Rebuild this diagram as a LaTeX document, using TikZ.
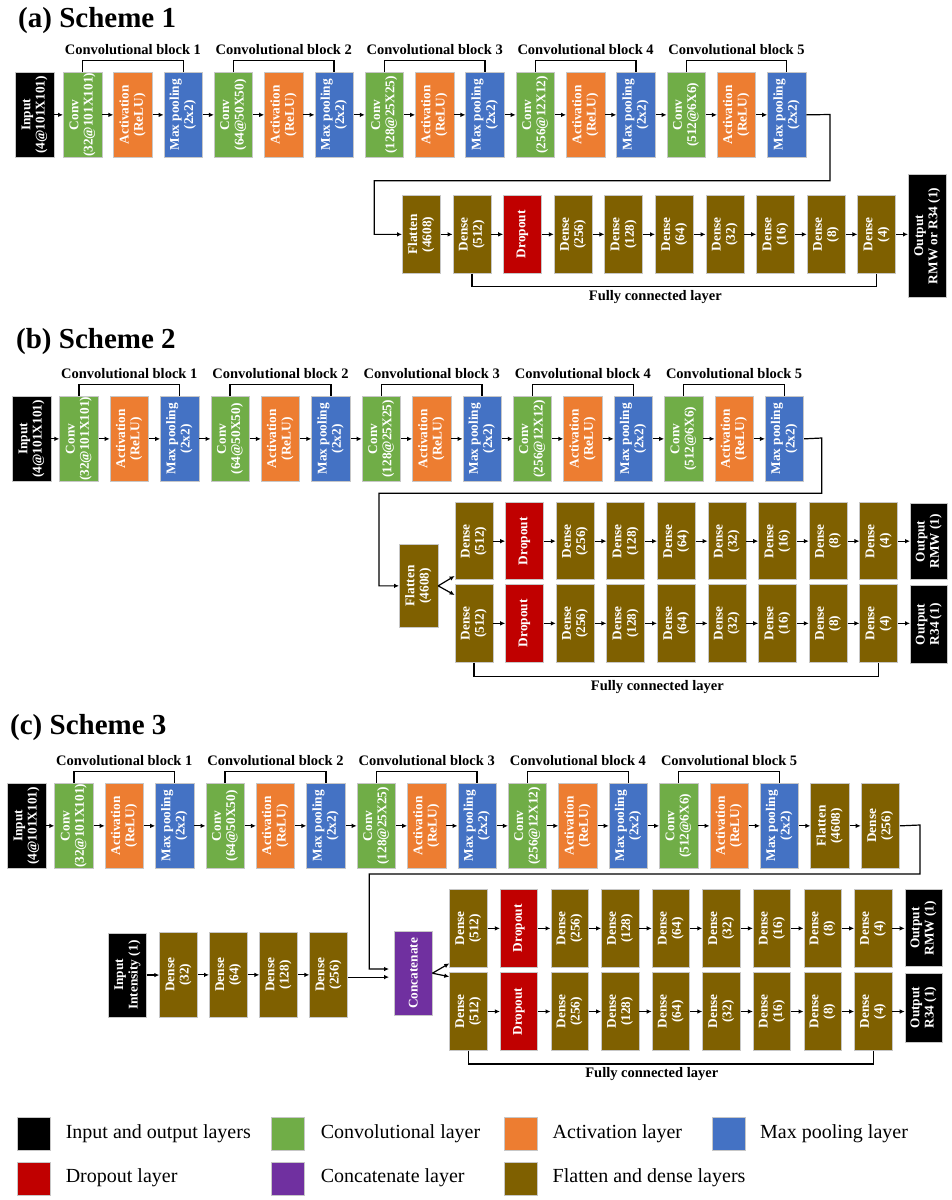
\documentclass[tikz,border=0pt]{standalone}
\usepackage{fontspec}
\setmainfont{Liberation Serif}
\usepackage{graphicx}
\usetikzlibrary{calc,arrows.meta}
\definecolor{cconv}{HTML}{70AD47}
\definecolor{cact}{HTML}{ED7D31}
\definecolor{cpool}{HTML}{4472C4}
\definecolor{cdrop}{HTML}{C00000}
\definecolor{ccat}{HTML}{7030A0}
\definecolor{cdense}{HTML}{7F6000}
\newcommand{\tlab}[2]{\rotatebox{90}{\begin{tabular}{@{}c@{}}#1\\#2\end{tabular}}}
\newcommand{\olab}[1]{\rotatebox{90}{#1}}
\newcommand\toprow[5]{%
  \node[io,topb] (#1in) at (#2,#4) {\tlab{Input}{(4@101X101)}};
  \foreach \b/\cl in {1/32@101X101,2/64@50X50,3/128@25X25,4/256@12X12,5/512@6X6}{
    \pgfmathsetmacro\xc{#3+3*#5*(\b-1)}
    \node[cv,topb] (#1c\b) at (\xc,#4) {\tlab{Conv}{(\cl)}};
    \node[ac,topb] (#1a\b) at (\xc+#5,#4) {\tlab{Activation}{(ReLU)}};
    \node[pl,topb] (#1p\b) at (\xc+2*#5,#4) {\tlab{Max pooling}{(2x2)}};
    \draw[brk] (#1c\b.north) -- ++(0,-11.5) -| (#1p\b.north);
    \node[blk] (#1l\b) at ($(#1c\b.north)!0.5!(#1p\b.north)+(0,-22.5)$) {Convolutional block \b};
    \draw[arr] (#1c\b) -- (#1a\b);
    \draw[arr] (#1a\b) -- (#1p\b);
  }
  \draw[arr] (#1in) -- (#1c1);
  \foreach \b [evaluate=\b as \n using int(\b+1)] in {1,...,4} {\draw[arr] (#1p\b) -- (#1c\n);}
}
\newcommand\denserow[6]{% #1 prefix, #2 x of col1, #3 y, #4 h, #5 pitch, #6 width
  \node[dn,minimum width=#6pt,minimum height=#4pt] (#1d1) at (#2,#3) {\tlab{Dense}{(512)}};
  \node[dr,minimum width=#6pt,minimum height=#4pt] (#1d2) at (#2+#5,#3) {\olab{Dropout}};
  \foreach \i/\n in {3/256,4/128,5/64,6/32,7/16,8/8,9/4}{
    \node[dn,minimum width=#6pt,minimum height=#4pt] (#1d\i) at (#2+#5*\i-#5,#3) {\tlab{Dense}{(\n)}};
  }
  \foreach \i [evaluate=\i as \n using int(\i+1)] in {1,...,8} {\draw[arr] (#1d\i) -- (#1d\n);}
}
\begin{document}
\begin{tikzpicture}[x=1pt,y=-1pt,
  box/.style={draw=black!22, line width=0.7pt, inner sep=0pt, anchor=north west, text=white,
    font=\fontsize{13.3}{14.3}\selectfont\bfseries},
  topb/.style={minimum width=38.5pt, minimum height=85pt},
  io/.style={box, fill=black},
  cv/.style={box, fill=cconv},
  ac/.style={box, fill=cact},
  pl/.style={box, fill=cpool},
  dr/.style={box, fill=cdrop},
  ct/.style={box, fill=ccat},
  dn/.style={box, fill=cdense},
  arr/.style={line width=1.2pt, -{Latex[length=5pt,width=4.6pt]}},
  brk/.style={line width=1.3pt},
  blk/.style={font=\fontsize{14.5}{16}\selectfont\bfseries, inner sep=0pt},
  ttl/.style={font=\fontsize{29}{32}\selectfont\bfseries, anchor=west, inner sep=0pt},
  leg/.style={draw=black!22, line width=0.7pt, minimum size=33pt, inner sep=0pt, anchor=north west},
  legt/.style={font=\fontsize{20}{22}\selectfont, anchor=west, inner sep=0pt}]
\fill[white] (0,0) rectangle (952,1200);
\useasboundingbox (0,0) rectangle (952,1200);

% ================= Scheme 1 =================
\node[ttl] (t1) at (18,21) {(a) Scheme 1};
\toprow{sa}{15}{63}{72}{50.3}
\node[dn,minimum width=38pt,minimum height=78pt] (saf) at (402,195) {\tlab{Flatten}{(4608)}};
\denserow{sa}{452.6}{195}{78}{50.6}{38}
\node[io,minimum width=38pt,minimum height=123pt] (sao) at (908,174) {\tlab{Output}{RMW or R34 (1)}};
\coordinate (sak1) at (830,114.5);
\coordinate (sak2) at (830,180.7);
\coordinate (sak3) at (374.3,180.7);
\draw[arr] (sap5.east) -- (sak1) -- (sak2) -- (sak3) |- (saf.west);
\draw[arr] (saf) -- (sad1);
\draw[arr] (sad9.east) -- (sad9.east -| sao.west);
\draw[brk] (sad1.south) -- ++(0,13) -| (sad9.south);
\node[blk] (safc) at ($(sad1.south)!0.5!(sad9.south)+(-19,23)$) {Fully connected layer};

% ================= Scheme 2 =================
\node[ttl] (t2) at (16,342) {(b) Scheme 2};
\toprow{sb}{12}{59.3}{396}{50.4}
\node[dn,minimum width=38.5pt,minimum height=83pt] (sbf) at (399,544) {\tlab{Flatten}{(4608)}};
\denserow{sbt}{454.6}{502.3}{77}{50.6}{38}
\denserow{sbb}{454.6}{584}{78}{50.6}{38}
\node[io,minimum width=37pt,minimum height=76pt] (sbo1) at (910,503) {\tlab{Output}{RMW (1)}};
\node[io,minimum width=37pt,minimum height=78pt] (sbo2) at (910,585) {\tlab{Output}{R34 (1)}};
\coordinate (sbk1) at (821.7,438);
\coordinate (sbk2) at (821.7,493.3);
\coordinate (sbk3) at (379,493.3);
\draw[arr] (sbp5.east) -- (sbk1) -- (sbk2) -- (sbk3) |- (sbf.west);
\draw[arr] (sbf.east) -- ($(sbtd1.south west)+(0,-4)$);
\draw[arr] (sbf.east) -- ($(sbbd1.north west)+(0,11)$);
\draw[arr] (sbtd9.east) -- (sbtd9.east -| sbo1.west);
\draw[arr] (sbbd9.east) -- (sbbd9.east -| sbo2.west);
\draw[brk] (sbbd1.south) -- ++(0,14) -| (sbbd9.south);
\node[blk] (sbfc) at ($(sbbd1.south)!0.5!(sbbd9.south)+(-19,24.5)$) {Fully connected layer};

% ================= Scheme 3 =================
\node[ttl] (t3) at (10,728) {(c) Scheme 3};
\toprow{sc}{7}{54.3}{783}{50.4}
\node[dn,topb] (scf) at (810.3,783) {\tlab{Flatten}{(4608)}};
\node[dn,topb] (scg) at (860.7,783) {\tlab{Dense}{(256)}};
\draw[arr] (scp5) -- (scf);
\draw[arr] (scf) -- (scg);
% second input chain
\node[io,minimum width=37.7pt,minimum height=84pt] (scii) at (108.3,932.7) {\tlab{Input}{Intensity (1)}};
\node[dn,minimum width=38pt,minimum height=85pt] (sce1) at (159.3,932) {\tlab{Dense}{(32)}};
\node[dn,minimum width=38pt,minimum height=85pt] (sce2) at (209,932) {\tlab{Dense}{(64)}};
\node[dn,minimum width=38pt,minimum height=85pt] (sce3) at (259.3,932) {\tlab{Dense}{(128)}};
\node[dn,minimum width=38pt,minimum height=85pt] (sce4) at (309.3,932) {\tlab{Dense}{(256)}};
\draw[arr] (scii.east) -- (scii.east -| sce1.west);
\draw[arr] (sce1) -- (sce2);
\draw[arr] (sce2) -- (sce3);
\draw[arr] (sce3) -- (sce4);
\node[ct,minimum width=37.7pt,minimum height=84.3pt] (sccat) at (394,930.7) {\olab{Concatenate}};
\coordinate (scq1) at ($(sccat.west)+(0,-4.2)$);
\coordinate (scq2) at ($(sccat.west)+(0,3.9)$);
\coordinate (sck1) at (920,825);
\coordinate (sck2) at (920,874);
\coordinate (sck3) at (369.3,874);
\draw[arr,shorten >=5pt] (scg.east) -- (sck1) -- (sck2) -- (sck3) |- (scq1);
\draw[arr,shorten >=5pt] (sce4.east |- scq2) -- (scq2);
\denserow{sct}{449.3}{889.3}{77.4}{50.6}{37.5}
\denserow{scb}{449.3}{972.3}{77.7}{50.6}{37.5}
\node[io,minimum width=37.3pt,minimum height=77pt] (sco1) at (904.7,889.3) {\tlab{Output}{RMW (1)}};
\node[io,minimum width=37.3pt,minimum height=69pt] (sco2) at (904.7,972.7) {\tlab{Output}{R34 (1)}};
\draw[arr] (sccat.east) -- ($(sctd1.south west)+(0,-4)$);
\draw[arr] (sccat.east) -- ($(scbd1.north west)+(0,4.4)$);
\draw[arr] (sctd9.east) -- (sctd9.east -| sco1.west);
\draw[arr] (scbd9.east) -- (scbd9.east -| sco2.west);
\draw[brk] (scbd1.south) -- ++(0,13.3) -| (scbd9.south);
\node[blk] (scfc) at ($(scbd1.south)!0.5!(scbd9.south)+(-19,23.3)$) {Fully connected layer};

% ================= Legend =================
\node[leg,fill=black] (lg1) at (17,1117.3) {};
\node[legt] (lt1) at (65.6,1134) {Input and output layers};
\node[leg,fill=cconv] (lg2) at (271.4,1117.3) {};
\node[legt] (lt2) at (320.6,1134) {Convolutional layer};
\node[leg,fill=cact] (lg3) at (504,1117.3) {};
\node[legt] (lt3) at (552.5,1134) {Activation layer};
\node[leg,fill=cpool] (lg4) at (711.6,1117.3) {};
\node[legt] (lt4) at (760,1134) {Max pooling layer};
\node[leg,fill=cdrop] (lg5) at (17,1161.7) {};
\node[legt] (lt5) at (65.6,1178) {Dropout layer};
\node[leg,fill=ccat] (lg6) at (271.4,1161.7) {};
\node[legt] (lt6) at (320.6,1178) {Concatenate layer};
\node[leg,fill=cdense] (lg7) at (504,1161.7) {};
\node[legt] (lt7) at (552.5,1178) {Flatten and dense layers};
\end{tikzpicture}
\end{document}
